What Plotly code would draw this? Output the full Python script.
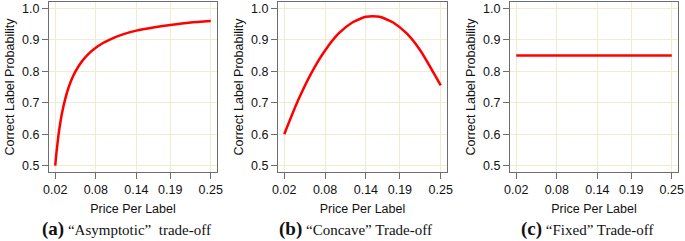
import plotly.graph_objects as go

# Price per label (x) and correct label probability (y)
asym_price = [0.02, 0.022, 0.025, 0.028, 0.03, 0.035, 0.04, 0.045, 0.05, 0.06, 0.07, 0.08,
              0.09, 0.10, 0.12, 0.14, 0.165, 0.19, 0.22, 0.25]
asym_prob = [0.50, 0.545, 0.60, 0.643, 0.667, 0.714, 0.75, 0.778, 0.80, 0.833, 0.857, 0.875,
             0.889, 0.90, 0.917, 0.929, 0.939, 0.947, 0.955, 0.96]

conc_price = [0.02, 0.04, 0.06, 0.08, 0.10, 0.12, 0.14, 0.15, 0.16, 0.18, 0.20, 0.22, 0.25]
conc_prob = [0.60, 0.706, 0.795, 0.866, 0.920, 0.955, 0.973, 0.975, 0.973, 0.955, 0.920, 0.866, 0.755]

fixed_price = [0.02, 0.25]
fixed_prob = [0.85, 0.85]

x_ticks = [0.02, 0.08, 0.14, 0.19, 0.25]
x_labels = ["0.02", "0.08", "0.14", "0.19", "0.25"]
y_ticks = [0.5, 0.6, 0.7, 0.8, 0.9, 1.0]
y_labels = ["0.5", "0.6", "0.7", "0.8", "0.9", "1.0"]

captions = [
    "<b><span style='font-size:19px'>(a)</span></b> \u201cAsymptotic\u201d  trade-off",
    "<b><span style='font-size:19px'>(b)</span></b> \u201cConcave\u201d Trade-off",
    "<b><span style='font-size:19px'>(c)</span></b> \u201cFixed\u201d Trade-off",
]

W, H = 685, 241
# plot boxes in pixels (left, right), shared top/bottom
boxes = [(49, 217), (278, 447), (510, 678)]
top_px, bot_px = 2, 172

series = [(asym_price, asym_prob), (conc_price, conc_prob), (fixed_price, fixed_prob)]

fig = go.Figure()
layout = {}
annotations = []
axis_font = dict(family="Liberation Sans, Arial, sans-serif", size=12.5, color="#111111")
grid_col = "#f1ebcf"
frame_col = "#6e6e6e"

for i, ((px, py), (l, r)) in enumerate(zip(series, boxes)):
    n = "" if i == 0 else str(i + 1)
    fig.add_trace(go.Scatter(
        x=px, y=py, mode="lines",
        line=dict(color="#ff0000", width=2.5, shape="spline", smoothing=0.6),
        xaxis="x" + n, yaxis="y" + n, showlegend=False,
    ))
    layout["xaxis" + n] = dict(
        domain=[l / W, r / W], anchor="y" + n, range=[0.0108, 0.2592],
        tickvals=x_ticks, ticktext=x_labels, ticks="outside", ticklen=6,
        tickcolor=frame_col, showgrid=True, gridcolor=grid_col, gridwidth=1,
        showline=True, linecolor=frame_col, linewidth=1, mirror=True,
        zeroline=False, tickfont=axis_font, automargin=False,
        title=dict(text="Price Per Label", font=axis_font, standoff=8),
    )
    layout["yaxis" + n] = dict(
        domain=[1 - bot_px / H, 1 - top_px / H], anchor="x" + n, range=[0.48, 1.02],
        tickvals=y_ticks, ticktext=y_labels, ticks="outside", ticklen=6,
        tickcolor=frame_col, showgrid=True, gridcolor=grid_col, gridwidth=1,
        showline=True, linecolor=frame_col, linewidth=1, mirror=True,
        zeroline=False, tickfont=axis_font, automargin=False,
        title=dict(text="Correct Label Probability", font=axis_font, standoff=4),
    )
    annotations.append(dict(
        text=captions[i], xref="paper", yref="paper",
        x=(l + r) / 2 / W - 0.01, y=1 - 229 / H, xanchor="center", yanchor="middle",
        showarrow=False,
        font=dict(family="Liberation Serif, Times New Roman, serif", size=15, color="#111111"),
    ))

fig.update_layout(
    width=W, height=H, margin=dict(l=0, r=0, t=0, b=0),
    paper_bgcolor="white", plot_bgcolor="white",
    annotations=annotations, **layout,
)

# drop the browser's default 8px body margin so the figure fills the window
fig.write_html("out.html", config={"displayModeBar": False},
               post_script="document.body.style.margin='0';")
